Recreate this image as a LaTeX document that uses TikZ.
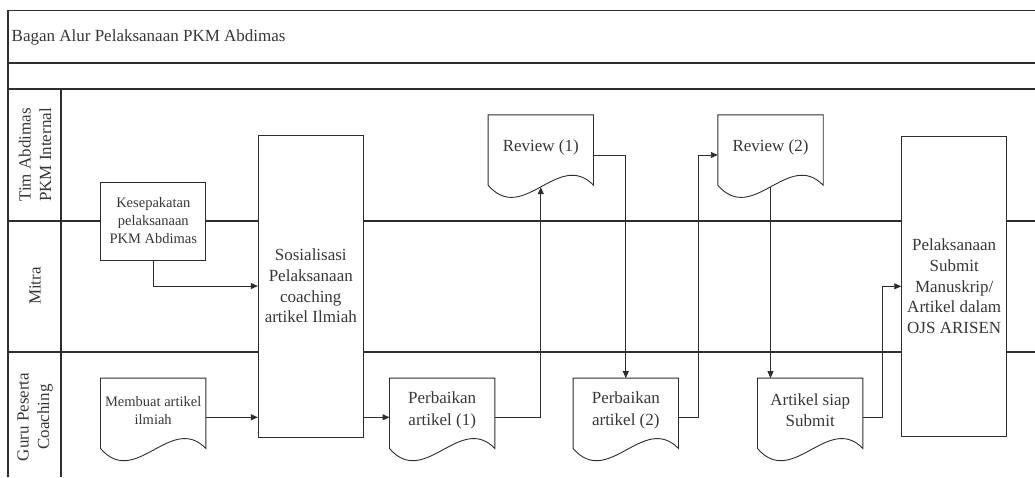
\documentclass[tikz,border=0pt]{standalone}
\usepackage{fontspec}
\setmainfont{Liberation Serif}
\usetikzlibrary{arrows.meta,calc}
\definecolor{ink}{RGB}{45,45,45}
\definecolor{txt}{RGB}{55,55,55}
\tikzset{
  frameline/.style={draw=ink, line width=1.2pt},
  boxline/.style={draw=ink, line width=0.9pt},
  procbox/.style={rectangle, boxline, fill=white, minimum width=105pt, align=center, inner sep=2pt, text=txt, font=\fontsize{17}{20.6}\selectfont},
  smallbox/.style={rectangle, boxline, fill=white, minimum width=105pt, minimum height=78pt, align=center, inner sep=2pt, text=txt, font=\fontsize{14.5}{18}\selectfont},
  docbox/.style={rectangle, draw=none, minimum width=105pt, minimum height=64pt, align=center, inner sep=2pt, text=txt, font=\fontsize{17}{21.5}\selectfont},
  smalldoc/.style={docbox, font=\fontsize{14.5}{17.5}\selectfont},
  lanelabel/.style={rotate=90, align=center, text=txt, font=\fontsize{17}{20.5}\selectfont},
  arr/.style={draw=ink, line width=0.9pt, -{Triangle[length=7pt,width=6pt]}},
}
\newcommand\docoutline[1]{%
  \draw[boxline] (#1.north west) -- ($(#1.south west)+(0,6)$)
    .. controls ($(#1.south west)+(35,46.5)$) and ($(#1.south east)+(-35,-30)$) .. ($(#1.south east)+(0,6)$)
    -- (#1.north east) -- cycle;}
\begin{document}
\begin{tikzpicture}[x=1pt,y=-1pt]
\useasboundingbox (0,0) rectangle (1035,477);
% frame
\coordinate (tl) at (8,10.5);
\draw[frameline] (8,477) -- (tl) -- (1035,10.5);
\draw[frameline] (8,63) -- (1035,63);
\draw[frameline] (8,89) -- (1035,89);
\draw[frameline] (61,89) -- (61,477);
\draw[frameline] (8,221) -- (1035,221);
\draw[frameline] (8,352) -- (1035,352);
\node[anchor=base west, text=txt, font=\fontsize{17}{20}\selectfont, inner sep=0pt] (title) at (11.5,41.5) {Bagan Alur Pelaksanaan PKM Abdimas};
% lane labels
\node[lanelabel] (lane1) at (35,155) {Tim Abdimas\\PKM Internal};
\node[lanelabel] (lane2) at (35,286) {Mitra};
\node[lanelabel] (lane3) at (35,417) {Guru Peserta\\Coaching};
% process boxes
\node[smallbox] (kes) at (153.3,221) {Kesepakatan\\pelaksanaan\\PKM Abdimas};
\node[procbox, minimum height=302pt] (sos) at (310.8,286) {Sosialisasi\\Pelaksanaan\\coaching\\artikel Ilmiah};
\node[procbox, minimum height=300.7pt] (pel) at (954.2,286.3) {Pelaksanaan\\Submit\\Manuskrip/\\Artikel dalam\\OJS ARISEN};
% documents
\node[smalldoc] (mem) at (153.2,410.3) {Membuat artikel\\ilmiah};
\node[docbox] (p1) at (442.2,410.3) {Perbaikan\\artikel (1)};
\node[docbox] (p2) at (625.8,410.3) {Perbaikan\\artikel (2)};
\node[docbox] (art) at (810.2,410.3) {Artikel siap\\Submit};
\node[docbox] (rev1) at (540.8,147) {Review (1)};
\node[docbox] (rev2) at (770.5,147) {Review (2)};
\docoutline{mem}
\docoutline{p1}
\docoutline{p2}
\docoutline{art}
\docoutline{rev1}
\docoutline{rev2}
% connectors
\draw[arr] (kes.south) |- (sos.west);
\draw[arr] ([yshift=-7pt]mem.east) -- ([yshift=-7pt]mem.east -| sos.west);
\draw[arr] ([yshift=-7pt]p1.west -| sos.east) -- ([yshift=-7pt]p1.west);
\draw[arr] ([yshift=-7pt]p1.east) -| ($(rev1.south)+(0,8)$);
\draw[arr] ([yshift=-8pt]rev1.east) -| (p2.north);
\draw[arr] ([yshift=-7pt]p2.east) -- ++(20,0) |- ([yshift=-8pt]rev2.west);
\draw[arr] ($(rev2.south)+(0,8)$) -- (rev2.south |- art.north);
\draw[arr] ([yshift=-7pt]art.east) -- ++(19.6,0) |- (pel.west);
\end{tikzpicture}
\end{document}
